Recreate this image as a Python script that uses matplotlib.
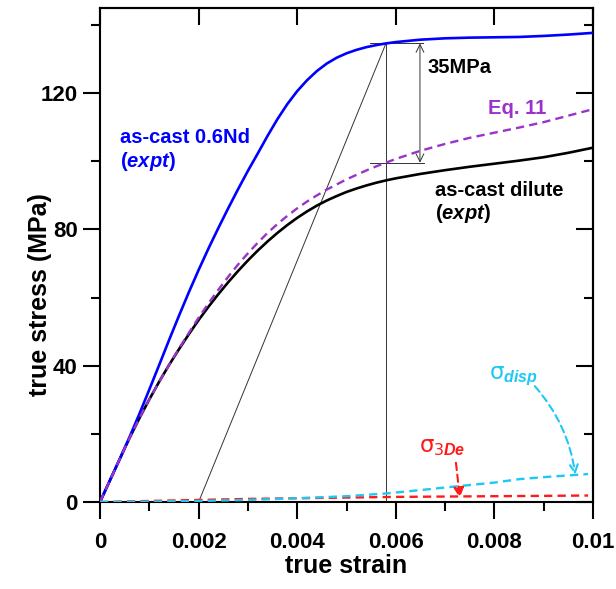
import numpy as np
import matplotlib
matplotlib.use("Agg")
import matplotlib.pyplot as plt
from matplotlib.patches import FancyArrowPatch
from matplotlib.ticker import MultipleLocator, FixedLocator, FixedFormatter

plt.rcParams['font.family'] = ['Liberation Sans', 'DejaVu Sans']
plt.rcParams['font.weight'] = 'bold'
plt.rcParams['mathtext.fontset'] = 'custom'
plt.rcParams['mathtext.rm'] = 'DejaVu Sans:weight=normal'
plt.rcParams['mathtext.it'] = 'Liberation Sans:italic:bold'
plt.rcParams['mathtext.bf'] = 'Liberation Sans:bold'

# ---- data ----
strain = [0, 0.0002, 0.0004, 0.0006, 0.0008, 0.001, 0.0012, 0.0014, 0.0016,
          0.0018, 0.002, 0.0022, 0.0024, 0.0026, 0.0028, 0.003, 0.0032,
          0.0034, 0.0036, 0.0038, 0.004, 0.0042, 0.0044, 0.0046, 0.0048,
          0.005, 0.0052, 0.0054, 0.0056, 0.0058, 0.006, 0.0065, 0.007,
          0.0075, 0.008, 0.0085, 0.009, 0.0095, 0.01]
stress_nd = [0, 6.3, 12.6, 19.1, 25.9, 33.0, 40.2, 47.5, 54.6, 61.5, 68.1, 74.4,
             80.4, 86.2, 91.8, 97.2, 102.3, 107.5, 112.4, 116.8, 120.6, 123.8,
             126.5, 128.7, 130.4, 131.7, 132.7, 133.5, 134.1, 134.6, 135.0,
             135.7, 136.1, 136.3, 136.4, 136.5, 136.8, 137.2, 137.7]
stress_dil = [0, 6.3, 12.6, 18.8, 24.6, 30.1, 35.3, 40.2, 44.8, 49.2, 53.4, 57.3,
              61.0, 64.5, 67.8, 70.9, 73.8, 76.5, 79.0, 81.3, 83.4, 85.3, 87.0,
              88.5, 89.8, 91.0, 92.0, 92.9, 93.7, 94.4, 95.0, 96.3, 97.4, 98.4,
              99.3, 100.2, 101.2, 102.5, 104.0]
stress_eq11 = [0, 6.3, 12.6, 18.8, 24.6, 30.1, 35.3, 40.2, 45.0, 49.6, 54.1, 58.3,
               62.3, 66.1, 69.7, 73.0, 76.1, 79.0, 81.6, 84.0, 86.2, 88.2, 90.0,
               91.7, 93.2, 94.7, 96.0, 97.3, 98.5, 99.6, 100.7, 103.1, 105.1,
               106.9, 108.4, 109.9, 111.5, 113.4, 115.3]

strain_disp = [0, 0.001, 0.002, 0.003, 0.004, 0.005, 0.0058, 0.0065, 0.0071,
               0.008, 0.0085, 0.009, 0.0099]
stress_disp = [0, 0.1, 0.3, 0.6, 1.1, 1.7, 2.5, 3.5, 4.4, 5.7, 6.7, 7.3, 8.2]

strain_3de = [0, 0.001, 0.002, 0.003, 0.004, 0.005, 0.006, 0.007, 0.008, 0.009, 0.0099]
stress_3de = [0, 0.3, 0.6, 0.9, 1.1, 1.3, 1.5, 1.6, 1.7, 1.8, 1.9]

x_ticks = [0, 0.002, 0.004, 0.006, 0.008, 0.01]
x_ticklabels = ['0', '0.002', '0.004', '0.006', '0.008', '0.01']
y_ticks = [0, 40, 80, 120]
y_ticklabels = ['0', '40', '80', '120']

offset_strain = 0.002
yield_strain = 0.0058
eq11_at_yield = 99.6

# ---- figure ----
fig = plt.figure(figsize=(6.16, 5.89), dpi=100)
ax = fig.add_axes([100/616, 87/589, 493/616, 494/589])
ax.set_xlim(0, 0.01)
ax.set_ylim(0, 145)

BLUE = '#0000ff'
PURPLE = '#9933cc'
CYAN = '#1ec8f5'
RED = '#ff1a1a'
DASH = (0, (3.5, 2.2))

ax.plot(strain, stress_nd, color=BLUE, lw=1.9, zorder=5)
ax.plot(strain, stress_dil, color='black', lw=1.9, zorder=4)
ax.plot(strain, stress_eq11, color=PURPLE, lw=1.7, ls=DASH, zorder=6)
ax.plot(strain_disp, stress_disp, color=CYAN, lw=1.7, ls=DASH, zorder=6)
ax.plot(strain_3de, stress_3de, color=RED, lw=1.7, ls=DASH, zorder=5)

# yield construction
sig_y = float(np.interp(yield_strain, strain, stress_nd))
thin = dict(color='#333333', lw=0.7, zorder=3)
ax.plot([offset_strain, yield_strain], [0, sig_y], **thin)
ax.plot([yield_strain, yield_strain], [0, sig_y], **thin)
ax.plot([0.00548, 0.00656], [sig_y, sig_y], **thin)
ax.plot([0.00548, 0.00658], [eq11_at_yield, eq11_at_yield], **thin)
ax.annotate('', xy=(0.00649, sig_y), xytext=(0.00649, eq11_at_yield),
            arrowprops=dict(arrowstyle='<->', color='#333333', lw=0.7,
                            shrinkA=0, shrinkB=0, mutation_scale=14))

fs = 14.5
ax.text(0.00665, 127.6, '35MPa', fontsize=fs, fontweight='bold', va='center', ha='left')
ax.text(0.000406, 107.1, 'as-cast 0.6Nd', color=BLUE, fontsize=fs,
        fontweight='bold', va='center', ha='left')
ax.text(0.000406, 99.8, r'($\mathit{expt}$)', color=BLUE, fontsize=fs,
        fontweight='bold', va='center', ha='left')
ax.text(0.0068, 91.5, 'as-cast dilute', color='black', fontsize=fs,
        fontweight='bold', va='center', ha='left')
ax.text(0.0068, 84.6, r'($\mathit{expt}$)', color='black', fontsize=fs,
        fontweight='bold', va='center', ha='left')
ax.text(0.00787, 115.6, 'Eq. 11', color=PURPLE, fontsize=fs,
        fontweight='bold', va='center', ha='left')

ax.text(0.00789, 36.0, r'$\mathrm{\sigma}_{\mathit{disp}}$', color=CYAN, fontsize=16.5,
        va='baseline', ha='left')
ax.text(0.00648, 14.6, r'$\mathrm{\sigma}_{\mathit{3De}}$', color=RED, fontsize=16.5,
        va='baseline', ha='left')

arr1 = FancyArrowPatch((0.00882, 34.0), (0.00964, 8.0),
                       connectionstyle='arc3,rad=-0.15', arrowstyle='->',
                       mutation_scale=14, color=CYAN, lw=1.5, ls=DASH,
                       shrinkA=0, shrinkB=0, zorder=7)
ax.add_patch(arr1)
arr2 = FancyArrowPatch((0.00722, 11.5), (0.0073, 1.2), arrowstyle='-|>',
                       mutation_scale=15, color=RED, lw=1.5, ls=DASH,
                       shrinkA=0, shrinkB=0, zorder=7)
ax.add_patch(arr2)

# axes styling
for s in ax.spines.values():
    s.set_linewidth(1.5)
ax.xaxis.set_major_locator(FixedLocator(x_ticks))
ax.xaxis.set_major_formatter(FixedFormatter(x_ticklabels))
ax.xaxis.set_minor_locator(MultipleLocator(0.001))
ax.yaxis.set_major_locator(FixedLocator(y_ticks))
ax.yaxis.set_major_formatter(FixedFormatter(y_ticklabels))
ax.yaxis.set_minor_locator(MultipleLocator(20))
ax.tick_params(axis='both', which='major', direction='out', length=12, width=1.5,
               labelsize=16, pad=4)
ax.tick_params(axis='both', which='minor', direction='out', length=6.5, width=1.5)
ax.tick_params(axis='x', which='major', pad=9.5)
for lab in ax.get_xticklabels() + ax.get_yticklabels():
    lab.set_fontweight('bold')

top = ax.secondary_xaxis('top')
top.xaxis.set_major_locator(FixedLocator(x_ticks))
top.tick_params(direction='in', length=12, width=1.5, labeltop=False)
top.spines['top'].set_linewidth(1.5)
right = ax.secondary_yaxis('right')
right.yaxis.set_major_locator(FixedLocator(y_ticks))
right.yaxis.set_minor_locator(MultipleLocator(20))
right.tick_params(which='major', direction='in', length=12, width=1.5, labelright=False)
right.tick_params(which='minor', direction='in', length=6.5, width=1.5)
right.spines['right'].set_linewidth(1.5)

ax.set_xlabel('true strain', fontsize=18, fontweight='bold')
ax.set_ylabel('true stress (MPa)', fontsize=18, fontweight='bold')
ax.xaxis.set_label_coords(0.5, -0.106)
ax.yaxis.set_label_coords(-0.098, 0.42)

fig.savefig('out.png', dpi=100)
